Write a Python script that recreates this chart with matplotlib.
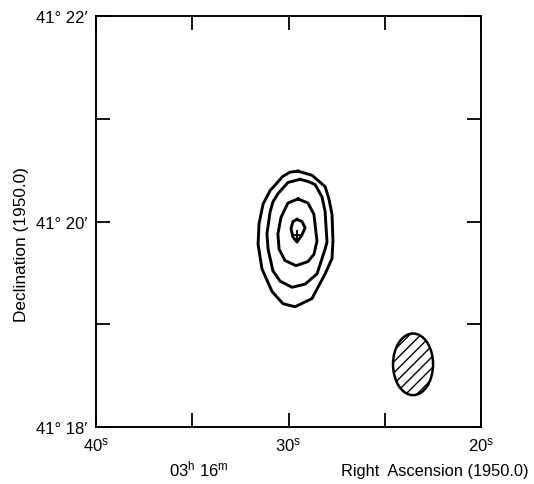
import matplotlib.pyplot as plt
from matplotlib.patches import Ellipse

plt.rcParams['font.family'] = ['Liberation Sans', 'DejaVu Sans']
plt.rcParams['mathtext.default'] = 'regular'

# contour outlines: RA seconds (03h 16m + s) and Dec arcmin (41 deg + ')
c1_ra = [29.51, 28.78, 28.10, 27.90, 27.74, 27.69, 27.74, 28.10, 28.78, 29.66, 30.29, 30.86, 31.38, 31.58, 31.53, 31.32, 30.96, 30.29, 29.92]
c1_dec = [20.49, 20.45, 20.34, 20.22, 20.07, 19.81, 19.64, 19.49, 19.25, 19.17, 19.20, 19.32, 19.54, 19.78, 19.98, 20.17, 20.30, 20.44, 20.48]
c2_ra = [29.40, 28.99, 28.62, 28.26, 28.10, 28.00, 28.10, 28.52, 29.14, 29.82, 30.44, 30.81, 31.06, 31.12, 30.96, 30.81, 30.55, 30.03]
c2_dec = [20.41, 20.39, 20.36, 20.24, 20.10, 19.80, 19.73, 19.49, 19.39, 19.36, 19.42, 19.52, 19.73, 19.88, 20.09, 20.19, 20.27, 20.38]
c3_ra = [29.51, 28.99, 28.68, 28.52, 28.68, 28.99, 29.61, 30.18, 30.49, 30.55, 30.39, 30.03]
c3_dec = [20.22, 20.18, 20.07, 19.81, 19.68, 19.61, 19.57, 19.62, 19.73, 19.88, 20.04, 20.18]
c4_ra = [29.56, 29.30, 29.14, 29.30, 29.56, 29.77, 29.87, 29.77]
c4_dec = [20.02, 20.00, 19.94, 19.87, 19.80, 19.85, 19.93, 20.00]
contours = [(c1_ra, c1_dec), (c2_ra, c2_dec), (c3_ra, c3_dec), (c4_ra, c4_dec)]

# optical position (cross) and the synthesized beam
pos_ra, pos_dec = 29.56, 19.87
beam_ra, beam_dec = 23.53, 18.61
beam_w, beam_h = 2.08, 0.60

xticks = [40, 35, 30, 25, 20]
xlabels = ['40$^{s}$', '', '30$^{s}$', '', '20$^{s}$']
yticks = [18, 19, 20, 21, 22]
ylabels = ["41\u00b0 18\u2032", '', "41\u00b0 20\u2032", '', "41\u00b0 22\u2032"]

fig = plt.figure(figsize=(5.34, 4.85), dpi=100)
ax = fig.add_axes([96/534, 57/485, 385/534, 411/485])

for ra, dec in contours:
    ax.plot(ra + ra[:1], dec + dec[:1], color='black', lw=2.1, solid_joinstyle='round')
ax.plot(pos_ra, pos_dec, marker='+', color='black', ms=7, mew=1.3)

ax.add_patch(Ellipse((beam_ra, beam_dec), beam_w, beam_h, facecolor='white',
                     edgecolor='black', lw=1.8, hatch='///'))

ax.set_xlim(40, 20)
ax.set_ylim(18, 22)
ax.set_xticks(xticks)
ax.set_xticklabels(xlabels, fontsize=12)
ax.set_yticks(yticks)
ax.set_yticklabels(ylabels, fontsize=12)
ax.tick_params(direction='in', length=10, width=1.3, top=True, right=True, pad=6)
for s in ax.spines.values():
    s.set_linewidth(1.4)

ax.text(34.65, 17.6, '03$^{h}$ 16$^{m}$', ha='center', va='center', fontsize=12)
fig.text(0.99, 0.027, 'Right  Ascension (1950.0)', ha='right', va='center', fontsize=11.8)
fig.text(0.041, 0.495, 'Declination (1950.0)', rotation=90,
         ha='center', va='center', fontsize=12.4)

plt.savefig('out.png', dpi=100)
